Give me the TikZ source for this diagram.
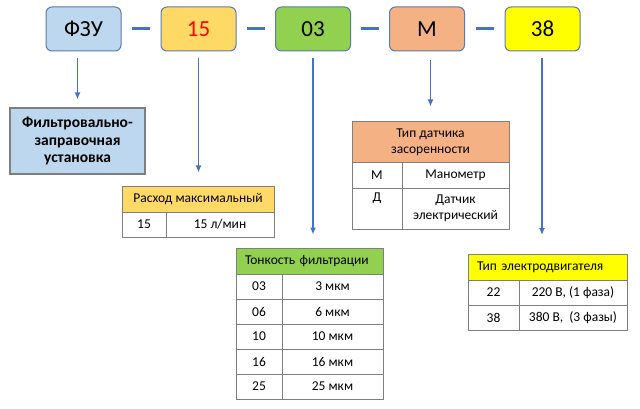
\documentclass[tikz,border=0pt]{standalone}
\usepackage{fontspec}
\setmainfont{Carlito}
\usetikzlibrary{arrows.meta,calc}
\definecolor{cblue}{HTML}{BDD7EE}
\definecolor{cgold}{HTML}{FFD966}
\definecolor{cgreen}{HTML}{92D050}
\definecolor{corange}{HTML}{F4B183}
\definecolor{cyel}{HTML}{FFFF00}
\definecolor{cedge}{HTML}{5B7BA8}
\definecolor{cline}{HTML}{4472C4}
\definecolor{cgrid}{HTML}{7F7F7F}
\tikzset{
  topbox/.style={draw=cedge, line width=1pt, rounded corners=6pt, minimum width=75pt, minimum height=44pt, inner sep=0pt, font=\fontsize{23}{26}\selectfont},
  dashbar/.style={draw=cline, line width=3pt},
  arr/.style={draw=cline, line width=1.6pt, -{Latex[length=7pt,width=6pt]}},
  cell/.style={draw=cgrid, line width=1pt, inner sep=0pt, font=\fontsize{13.5}{16.5}\selectfont, align=center},
  hdr/.style={cell},
  desc/.style={draw=cgrid, line width=1.2pt, fill=cblue, minimum width=135pt, minimum height=66pt, inner sep=0pt, align=center, font=\fontsize{15.5}{17.5}\selectfont\bfseries},
}
\begin{document}
\begin{tikzpicture}[x=1pt,y=-1pt]
\useasboundingbox (0,0) rectangle (640,409);
% top code boxes
\node[topbox, fill=cblue] (fzu) at (83.5,29) {ФЗУ};
\node[topbox, fill=cgold, text=red] (b15) at (198.5,29) {15};
\node[topbox, fill=cgreen] (b03) at (313,29) {03};
\node[topbox, fill=corange] (bM) at (427,29) {М};
\node[topbox, fill=cyel] (b38) at (542.5,29) {38};
% dashes
\foreach \a/\b in {fzu/b15,b15/b03,b03/bM,bM/b38}{
  \draw[dashbar] ($(\a.east)!0.5!(\b.west)+(-9,0)$) -- ($(\a.east)!0.5!(\b.west)+(9,0)$);
}
% description box
\node[desc] (desc) at (77.5,141) {Фильтровально-\\заправочная\\установка};
% table: flow
\node[hdr, fill=cgold, minimum width=152pt, minimum height=26pt] (t1h) at (198,199) {Расход максимальный};
\node[cell, minimum width=44pt, minimum height=25pt] (t1a) at (144,224.5) {15};
\node[cell, minimum width=108pt, minimum height=25pt] (t1b) at (220,224.5) {15 л/мин};
% table: sensor
\node[hdr, fill=corange, minimum width=157pt, minimum height=41pt] (t4h) at (430.5,142.5) {Тип датчика\\засоренности};
\node[cell, minimum width=50pt, minimum height=25pt] (t4a) at (377,175.5) {М};
\node[cell, minimum width=107pt, minimum height=25pt] (t4b) at (455.5,175.5) {Манометр};
\node[cell, minimum width=50pt, minimum height=41pt] (t4c) at (377,208.5) {};
\node[cell, draw=none, anchor=north] (t4ct) at ($(t4c.north)+(0,5)$) {Д};
\node[cell, minimum width=107pt, minimum height=41pt] (t4d) at (455.5,208.5) {Датчик\\электрический};
% table: filtration
\node[hdr, fill=cgreen, minimum height=26pt, text width=129pt, inner xsep=9pt, align=left] (t3h) at (309.5,261) {Тонкость фильтрации};
\foreach \k/\y/\c/\v in {1/286.5/03/3 мкм,2/311.5/06/6 мкм,3/336.5/10/10 мкм,4/361.5/16/16 мкм,5/386.5/25/25 мкм}{
  \node[cell, minimum width=46pt, minimum height=25pt] (t3a\k) at (259,\y) {\c};
  \node[cell, minimum width=101pt, minimum height=25pt] (t3b\k) at (332.5,\y) {\v};
}
% table: motor
\node[hdr, fill=cyel, minimum height=26pt, text width=141pt, inner xsep=9pt, align=left] (t5h) at (547.5,267) {Тип электродвигателя};
\node[cell, minimum width=51pt, minimum height=25pt] (t5a) at (493.5,292.5) {22};
\node[cell, minimum width=108pt, minimum height=25pt] (t5b) at (573,292.5) {220 В, (1 фаза)};
\node[cell, minimum width=51pt, minimum height=25pt] (t5c) at (493.5,317.5) {38};
\node[cell, minimum width=108pt, minimum height=25pt] (t5d) at (573,317.5) {380 В,\ \ (3 фазы)};
% connectors
\draw[arr, shorten <=7pt, shorten >=8pt] (desc.north |- fzu.south) -- (desc.north);
\draw[arr, shorten <=7pt, shorten >=13pt] (b15.south) -- (b15.south |- t1h.north);
\draw[arr, shorten <=7pt, shorten >=13pt] (b03.south) -- (b03.south |- t3h.north);
\draw[arr, shorten <=9pt, shorten >=15pt] (t4h.north |- bM.south) -- (t4h.north);
\draw[arr, shorten <=7pt, shorten >=19pt] (b38.south -| 542,0) -- (542,254);
\end{tikzpicture}
\end{document}
